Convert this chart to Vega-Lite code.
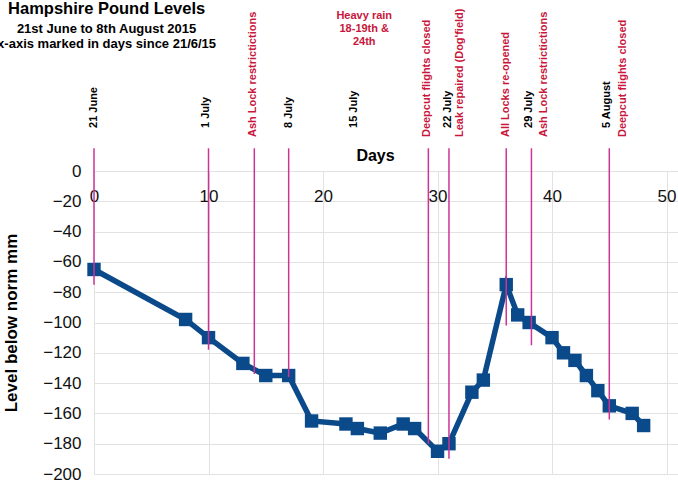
{
  "$schema": "https://vega.github.io/schema/vega-lite/v6.json",
  "width": 584,
  "height": 303,
  "autosize": "none",
  "padding": {"left": 94, "top": 171, "right": 0, "bottom": 10},
  "background": "white",
  "config": {
    "view": {"stroke": null},
    "font": "Liberation Sans",
    "axis": {"labelOverlap": false, "labelBound": false},
    "axisY": {"labelOverlap": false}
  },
  "datasets": {
    "series": [
      {"day": 0, "level": -65}, {"day": 8, "level": -98}, {"day": 10, "level": -110},
      {"day": 13, "level": -127}, {"day": 15, "level": -135}, {"day": 17, "level": -135},
      {"day": 19, "level": -165}, {"day": 22, "level": -167}, {"day": 23, "level": -170},
      {"day": 25, "level": -173}, {"day": 27, "level": -167}, {"day": 28, "level": -170},
      {"day": 30, "level": -185}, {"day": 31, "level": -180}, {"day": 33, "level": -146},
      {"day": 34, "level": -138}, {"day": 36, "level": -75}, {"day": 37, "level": -95},
      {"day": 38, "level": -100}, {"day": 40, "level": -110}, {"day": 41, "level": -120},
      {"day": 42, "level": -125}, {"day": 43, "level": -135}, {"day": 44, "level": -145},
      {"day": 45, "level": -155}, {"day": 47, "level": -160}, {"day": 48, "level": -168}
    ],
    "rules": [
      {"day": 0, "end": -75}, {"day": 10, "end": -118}, {"day": 14, "end": -134},
      {"day": 17, "end": -136}, {"day": 29.2, "end": -180}, {"day": 31, "end": -190},
      {"day": 36, "end": -102}, {"day": 38.2, "end": -115}, {"day": 45, "end": -164}
    ],
    "dates": [
      {"day": 0, "label": "21 June"}, {"day": 9.8, "label": "1 July"},
      {"day": 17, "label": "8 July"}, {"day": 22.7, "label": "15 July"},
      {"day": 30.9, "label": "22 July"}, {"day": 38, "label": "29 July"},
      {"day": 44.8, "label": "5 August"}
    ],
    "events": [
      {"day": 13.9, "label": "Ash Lock restrictictions"},
      {"day": 29.1, "label": "Deepcut flights closed"},
      {"day": 32.0, "label": "Leak repaired (Dog'field)"},
      {"day": 36.0, "label": "All Locks re-opened"},
      {"day": 39.3, "label": "Ash Lock restrictictions"},
      {"day": 46.2, "label": "Deepcut flights closed"}
    ]
  },
  "layer": [
    {
      "data": {"name": "series"},
      "mark": {"type": "line", "color": "#0b4a8a", "strokeWidth": 5.5},
      "encoding": {
        "x": {
          "field": "day", "type": "quantitative",
          "scale": {"domain": [0, 51], "nice": false},
          "axis": {
            "orient": "top", "values": [0, 10, 20, 30, 40, 50],
            "labelFontSize": 17, "labelColor": "#111", "labelBaseline": "top",
            "labelPadding": -17, "labelFlush": false, "labelOverlap": false,
            "ticks": false, "tickSize": 0,
            "domain": false, "grid": true, "gridColor": "#e2e2e2",
            "title": "Days", "titleFontSize": 16, "titleFontWeight": "bold",
            "titleColor": "#000", "titleX": 281, "titleY": -16,
            "titleBaseline": "middle", "titleAlign": "center"
          }
        },
        "y": {
          "field": "level", "type": "quantitative",
          "scale": {"domain": [-200, 0], "nice": false},
          "axis": {
            "values": [-200, -180, -160, -140, -120, -100, -80, -60, -40, -20, 0],
            "tickCount": 11,
            "labelFontSize": 17, "labelColor": "#111", "labelPadding": 13,
            "labelOverlap": false, "labelSeparation": 0,
            "ticks": false, "domain": false, "grid": true, "gridColor": "#e2e2e2",
            "title": "Level below norm mm", "titleFontSize": 17,
            "titleFontWeight": "bold", "titleColor": "#000", "titlePadding": 22
          }
        }
      }
    },
    {
      "data": {"name": "series"},
      "mark": {"type": "point", "shape": "square", "filled": true, "size": 180, "color": "#0b4a8a", "opacity": 1},
      "encoding": {
        "x": {"field": "day", "type": "quantitative"},
        "y": {"field": "level", "type": "quantitative"}
      }
    },
    {
      "data": {"name": "rules"},
      "mark": {"type": "rule", "color": "#cc3399", "strokeWidth": 1.5},
      "encoding": {
        "x": {"field": "day", "type": "quantitative"},
        "y": {"field": "end", "type": "quantitative"},
        "y2": {"datum": 15}
      }
    },
    {
      "data": {"name": "dates"},
      "mark": {"type": "text", "angle": 270, "align": "left", "baseline": "middle", "fontSize": 11, "fontWeight": "bold", "color": "#000"},
      "encoding": {
        "x": {"field": "day", "type": "quantitative"},
        "y": {"datum": 28.4},
        "text": {"field": "label"}
      }
    },
    {
      "data": {"name": "events"},
      "mark": {"type": "text", "angle": 270, "align": "left", "baseline": "middle", "fontSize": 11, "fontWeight": "bold", "color": "#c8163c"},
      "encoding": {
        "x": {"field": "day", "type": "quantitative"},
        "y": {"datum": 22.4},
        "text": {"field": "label"}
      }
    },
    {
      "data": {"values": [{"t": "Heavy rain|18-19th &|24th"}]},
      "mark": {"type": "text", "align": "center", "baseline": "alphabetic", "fontSize": 11, "fontWeight": "bold", "color": "#c8163c", "lineBreak": "|", "lineHeight": 13},
      "encoding": {
        "x": {"datum": 23.6},
        "y": {"datum": 100.3},
        "text": {"field": "t"}
      }
    },
    {
      "data": {"values": [{"t": "Hampshire Pound Levels"}]},
      "mark": {"type": "text", "align": "center", "baseline": "alphabetic", "fontSize": 16.5, "fontWeight": "bold", "color": "#000"},
      "encoding": {
        "x": {"datum": 1.1},
        "y": {"datum": 103.6},
        "text": {"field": "t"}
      }
    },
    {
      "data": {"values": [{"t": "21st June to 8th August 2015|x-axis marked in days since 21/6/15"}]},
      "mark": {"type": "text", "align": "center", "baseline": "alphabetic", "fontSize": 13, "fontWeight": "bold", "color": "#000", "lineBreak": "|", "lineHeight": 15},
      "encoding": {
        "x": {"datum": 1.1},
        "y": {"datum": 91.1},
        "text": {"field": "t"}
      }
    }
  ]
}
